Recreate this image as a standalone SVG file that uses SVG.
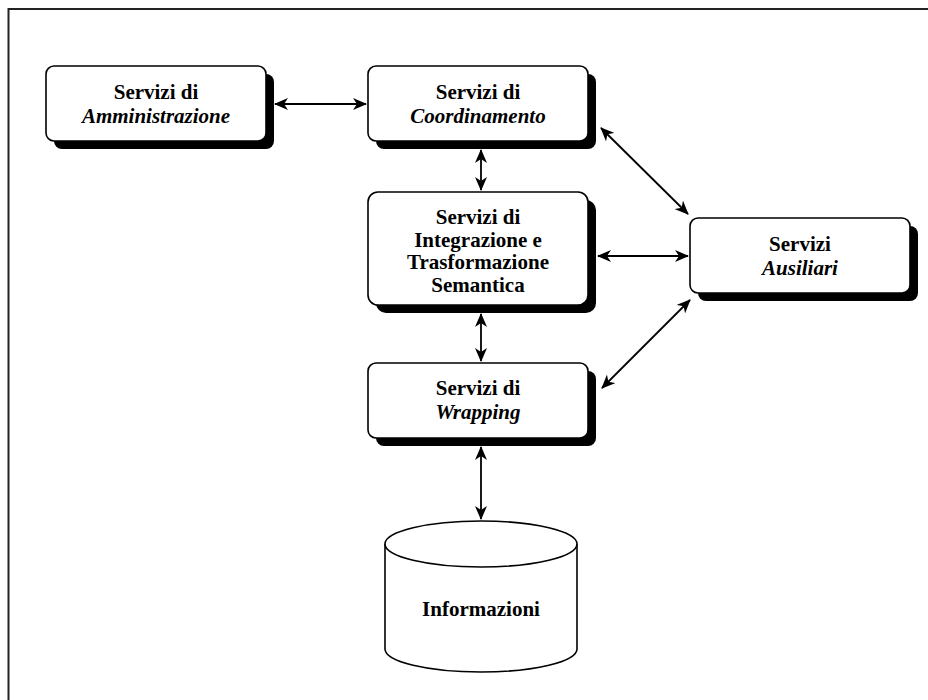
<svg xmlns="http://www.w3.org/2000/svg" width="928" height="700" viewBox="0 0 928 700">
<defs>
<style>
.box{fill:#fff;stroke:#000;stroke-width:1.6}
.sh{fill:#000}
.t{font-family:"Liberation Serif","Times New Roman",serif;font-size:21px;font-weight:bold;text-anchor:middle;fill:#000}
.i{font-style:italic}
.c{stroke:#000;stroke-width:1.8;fill:none;marker-start:url(#ah);marker-end:url(#ah)}
</style>
<marker id="ah" viewBox="0 0 14 12" refX="13" refY="6" markerWidth="14" markerHeight="12" markerUnits="userSpaceOnUse" orient="auto-start-reverse">
<path d="M0,0 L14,6 L0,12 L4,6 z" fill="#000"/>
</marker>
</defs>
<rect width="928" height="700" fill="#fff"/>
<path d="M8.5,700 L8.5,9 L928,9" fill="none" stroke="#222" stroke-width="2"/>

<g id="amministrazione">
<rect class="sh" x="54" y="74" width="220" height="75" rx="8"/>
<rect class="box" x="46" y="66" width="220" height="75" rx="8"/>
<text class="t" x="156" y="99">Servizi di</text>
<text class="t i" x="156" y="123">Amministrazione</text>
</g>

<g id="coordinamento">
<rect class="sh" x="376" y="74" width="220" height="75" rx="8"/>
<rect class="box" x="368" y="66" width="220" height="75" rx="8"/>
<text class="t" x="478" y="99">Servizi di</text>
<text class="t i" x="478" y="123">Coordinamento</text>
</g>

<g id="integrazione">
<rect class="sh" x="376" y="200" width="220" height="113" rx="10"/>
<rect class="box" x="368" y="192" width="220" height="113" rx="10"/>
<text class="t" x="478" y="224">Servizi di</text>
<text class="t" x="478" y="246.5">Integrazione e</text>
<text class="t" x="478" y="269">Trasformazione</text>
<text class="t" x="478" y="291.5">Semantica</text>
</g>

<g id="ausiliari">
<rect class="sh" x="698" y="226" width="220" height="75" rx="8"/>
<rect class="box" x="690" y="218" width="220" height="75" rx="8"/>
<text class="t" x="800" y="251">Servizi</text>
<text class="t i" x="800" y="275">Ausiliari</text>
</g>

<g id="wrapping">
<rect class="sh" x="376" y="371" width="220" height="75" rx="8"/>
<rect class="box" x="368" y="363" width="220" height="75" rx="8"/>
<text class="t" x="478" y="395">Servizi di</text>
<text class="t i" x="478" y="419">Wrapping</text>
</g>

<g id="informazioni">
<path d="M385,544 L385,649 A96,23 0 0 0 577,649 L577,544" fill="#fff" stroke="#000" stroke-width="1.6"/>
<ellipse cx="481" cy="544" rx="96" ry="23" fill="#fff" stroke="#000" stroke-width="1.6"/>
<text class="t" x="481" y="616">Informazioni</text>
</g>

<g id="connectors">
<line class="c" x1="275" y1="104" x2="366" y2="104"/>
<line class="c" x1="481" y1="150" x2="481" y2="190"/>
<line class="c" x1="598" y1="256" x2="688" y2="256"/>
<line class="c" x1="481" y1="314" x2="481" y2="361"/>
<line class="c" x1="601" y1="128" x2="688" y2="214"/>
<line class="c" x1="602" y1="388" x2="690" y2="300"/>
<line class="c" x1="481" y1="447" x2="481" y2="519"/>
</g>
</svg>
